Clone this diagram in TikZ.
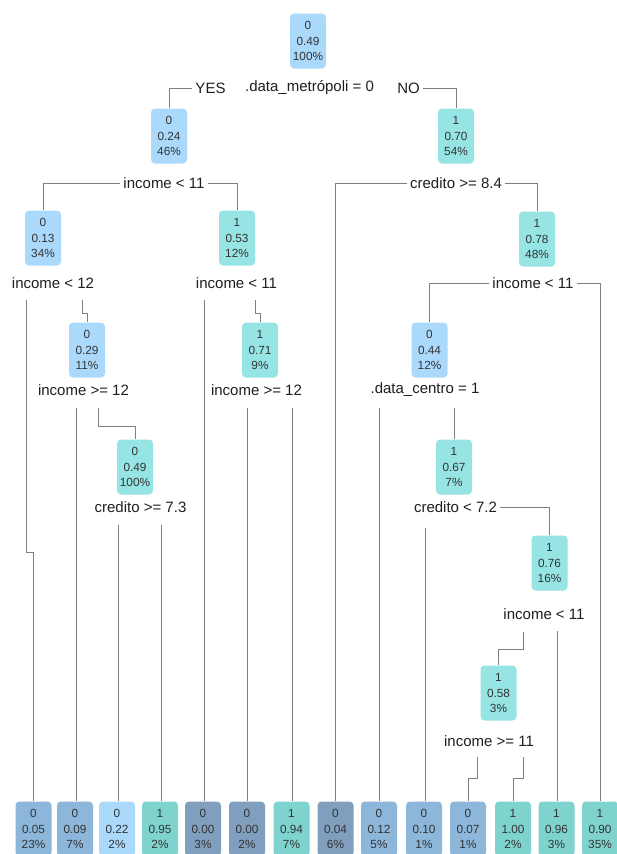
\documentclass[tikz,border=0pt]{standalone}
\usepackage{fontspec}
\setmainfont{Liberation Sans}
\definecolor{cLB}{HTML}{ABD9FB}
\definecolor{cT}{HTML}{96E4E4}
\definecolor{cD}{HTML}{809FBF}
\definecolor{cM}{HTML}{8CB7DA}
\definecolor{cTL}{HTML}{7ED3CE}
\begin{document}
\begin{tikzpicture}[x=1pt,y=-1pt,
  box/.style={draw=none, rounded corners=4pt, minimum width=36pt, minimum height=55pt, inner sep=0pt, align=center, font=\fontsize{11.8}{15.5}\selectfont, text=black!80},
  lbl/.style={font=\fontsize{15}{17}\selectfont, inner sep=3pt, text=black!88},
  con/.style={draw=black!50, line width=0.8pt}]
\fill[white] (0,0) rectangle (617,854);
\useasboundingbox (0,0) rectangle (617,854);
% internal nodes
\node[box,fill=cLB] (r) at (308,41) {0\\0.49\\100\%};
\node[box,fill=cLB] (n2) at (169,136) {0\\0.24\\46\%};
\node[box,fill=cT] (n3) at (456,136) {1\\0.70\\54\%};
\node[box,fill=cLB] (n4) at (43,238) {0\\0.13\\34\%};
\node[box,fill=cT] (n5) at (237,238) {1\\0.53\\12\%};
\node[box,fill=cT] (n7) at (537,239) {1\\0.78\\48\%};
\node[box,fill=cLB] (n8) at (87,350) {0\\0.29\\11\%};
\node[box,fill=cT] (n9) at (260,350) {1\\0.71\\9\%};
\node[box,fill=cLB] (n14) at (429.5,350) {0\\0.44\\12\%};
\node[box,fill=cT] (n10) at (135,467) {0\\0.49\\100\%};
\node[box,fill=cT] (n15) at (454,467) {1\\0.67\\7\%};
\node[box,fill=cT] (n16) at (549.5,563) {1\\0.76\\16\%};
\node[box,fill=cT] (n17) at (498.5,693) {1\\0.58\\3\%};
% leaves
\node[box,fill=cM] (L1) at (33.5,829) {0\\0.05\\23\%};
\node[box,fill=cM] (L2) at (75,829) {0\\0.09\\7\%};
\node[box,fill=cLB] (L3) at (117,829) {0\\0.22\\2\%};
\node[box,fill=cTL] (L4) at (160,829) {1\\0.95\\2\%};
\node[box,fill=cD] (L5) at (203,829) {0\\0.00\\3\%};
\node[box,fill=cD] (L6) at (247,829) {0\\0.00\\2\%};
\node[box,fill=cTL] (L7) at (291.5,829) {1\\0.94\\7\%};
\node[box,fill=cD] (L8) at (335.5,829) {0\\0.04\\6\%};
\node[box,fill=cM] (L9) at (379,829) {0\\0.12\\5\%};
\node[box,fill=cM] (L10) at (424,829) {0\\0.10\\1\%};
\node[box,fill=cM] (L11) at (468,829) {0\\0.07\\1\%};
\node[box,fill=cTL] (L12) at (513,829) {1\\1.00\\2\%};
\node[box,fill=cTL] (L13) at (556.5,829) {1\\0.96\\3\%};
\node[box,fill=cTL] (L14) at (600,829) {1\\0.90\\35\%};
% split labels
\node[lbl] (s1) at (309.5,88) {.data\_metrópoli = 0};
\node[lbl] (yes) at (210.5,88) {YES};
\node[lbl] (no) at (408.5,88) {NO};
\node[lbl] (sA) at (164,183) {income < 11};
\node[lbl] (sB) at (456,183) {credito >= 8.4};
\node[lbl] (s4) at (53,283) {income < 12};
\node[lbl] (s5) at (236.5,283) {income < 11};
\node[lbl] (s7) at (533,283) {income < 11};
\node[lbl] (s8) at (83.5,390) {income >= 12};
\node[lbl] (s9) at (256.5,390) {income >= 12};
\node[lbl] (s14) at (425,390) {.data\_centro = 1};
\node[lbl] (s10) at (140.5,507) {credito >= 7.3};
\node[lbl] (s15) at (455.5,507) {credito < 7.2};
\node[lbl] (s16) at (544,614) {income < 11};
\node[lbl] (s17) at (489,741) {income >= 11};
% connectors
\draw[con] (yes.west) -| (n2.north);
\draw[con] (no.east) -| (n3.north);
\draw[con] (sA.west) -| (n4.north);
\draw[con] (sA.east) -| (n5.north);
\draw[con] (sB.west) -| (L8.north);
\draw[con] (sB.east) -| (n7.north);
\draw[con] (s7.west) -| (n14.north);
\draw[con] (s7.east) -| (L14.north);
\draw[con] (s15.east) -| (n16.north);
\coordinate (a4l) at (26,300);
\coordinate (a4r) at (82,300);
\coordinate (a5l) at (204,300);
\coordinate (a5r) at (255,300);
\coordinate (a8l) at (76,408);
\coordinate (a8r) at (98,408);
\coordinate (a9l) at (247,408);
\coordinate (a9r) at (292,408);
\coordinate (a14l) at (379,408);
\coordinate (a14r) at (454,408);
\coordinate (a10l) at (118,525);
\coordinate (a10r) at (161,525);
\coordinate (a15l) at (425,528);
\coordinate (a16l) at (523,632);
\coordinate (a16r) at (557,631);
\coordinate (a17l) at (477,757);
\coordinate (a17r) at (523,757);
\draw[con] (a4l) -- ++(0,252) -| (L1.north);
\draw[con] (a4r) -- ++(0,13) -| (n8.north);
\draw[con] (a5l) -- (a5l |- L5.north);
\draw[con] (a5r) -- ++(0,13) -| (n9.north);
\draw[con] (a8l) -- (a8l |- L2.north);
\draw[con] (a8r) -- ++(0,18) -| (n10.north);
\draw[con] (a9l) -- (a9l |- L6.north);
\draw[con] (a9r) -- (a9r |- L7.north);
\draw[con] (a14l) -- (a14l |- L9.north);
\draw[con] (a14r) -- (n15.north);
\draw[con] (a10l) -- (a10l |- L3.north);
\draw[con] (a10r) -- (a10r |- L4.north);
\draw[con] (a15l) -- (a15l |- L10.north);
\draw[con] (a16l) -- ++(0,17) -| (n17.north);
\draw[con] (a16r) -- (a16r |- L13.north);
\draw[con] (a17l) -- ++(0,21) -| (L11.north);
\draw[con] (a17r) -- ++(0,21) -| (L12.north);
\end{tikzpicture}
\end{document}
